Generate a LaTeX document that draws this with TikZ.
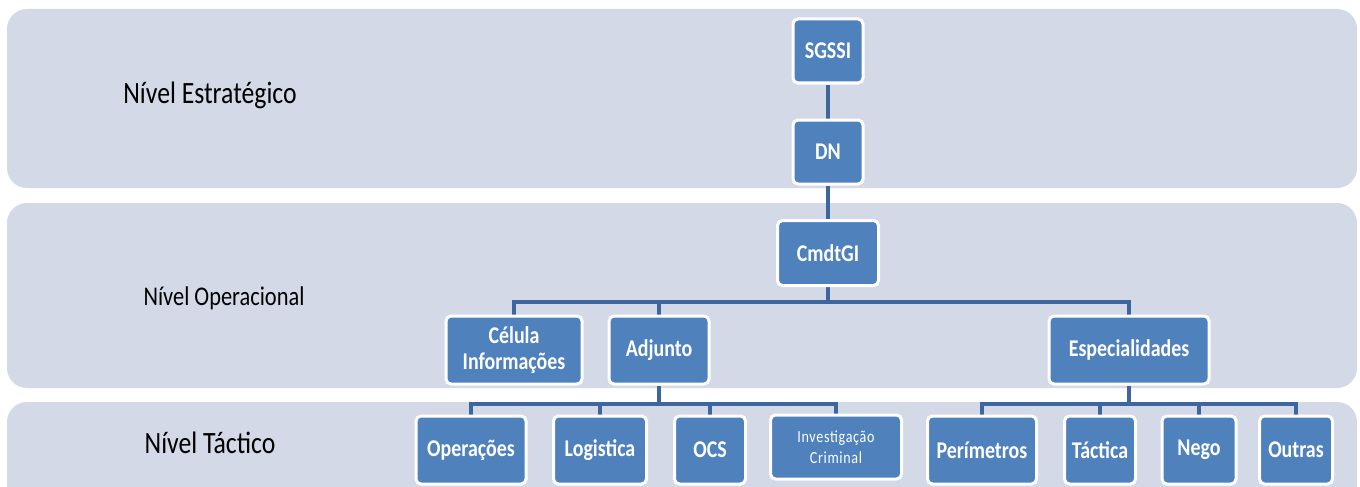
\documentclass[tikz,border=0pt]{standalone}
\usepackage{fontspec}
\setmainfont{Carlito}[FakeStretch=0.83]
\definecolor{bandfill}{HTML}{D3D9E7}
\definecolor{boxfill}{HTML}{4F81BD}
\definecolor{linkcol}{HTML}{3C669C}
\pgfdeclarelayer{bands}
\pgfdeclarelayer{links}
\pgfsetlayers{bands,links,main}

\begin{document}
\begin{tikzpicture}[x=1pt,y=-1pt,
  orgbox/.style={draw=white, line width=3pt, fill=boxfill, rounded corners=5pt,
    text=white, font=\fontsize{24}{29}\selectfont\bfseries, align=center,
    inner sep=0pt, minimum height=68pt},
  toprow/.style={orgbox, minimum width=70pt, minimum height=64pt},
  tacbox/.style={orgbox, minimum height=68pt},
  levellabel/.style={font=\fontsize{31}{36}\selectfont, anchor=base, text=black},
  band/.style={fill=bandfill, rounded corners=20pt},
  link/.style={draw=linkcol, line width=4pt}]

\useasboundingbox (0,0) rectangle (1360,487);
\clip (0,0) rectangle (1360,487);

% level bands
\begin{pgfonlayer}{bands}
  \fill[white] (0,0) rectangle (1360,487);
  \path[band] (7,9) rectangle (1357,188);
  \path[band] (7,203) rectangle (1357,388);
  \path[band] (7,402) rectangle (1357,530);
\end{pgfonlayer}

% level names
\node[levellabel] (lvlE) at (210,103) {Nível Estratégico};
\node[levellabel, font=\fontsize{27}{32}\selectfont] (lvlO) at (224,305) {Nível Operacional};
\node[levellabel] (lvlT) at (210,453) {Nível Táctico};

% strategic and operational units
\node[toprow] (sgssi) at (828,51) {SGSSI};
\node[toprow] (dn) at (828,152) {DN};
\node[orgbox, minimum width=101pt, minimum height=65pt] (cmdt) at (828,253) {CmdtGI};
\node[orgbox, minimum width=136pt] (cel) at (514,350) {Célula\\[-3pt]Informações};
\node[orgbox, minimum width=100pt] (adj) at (659,350) {Adjunto};
\node[orgbox, minimum width=160pt] (esp) at (1129,350) {Especialidades};

% tactical units
\node[tacbox, minimum width=110pt] (ope) at (471,450) {Operações};
\node[tacbox, minimum width=93pt] (logi) at (600,450) {Logistica};
\node[tacbox, minimum width=71pt] (ocs) at (710,450) {OCS};
\node[tacbox, minimum width=131pt, minimum height=64pt, font=\fontsize{17}{21}\selectfont\addfontfeature{LetterSpace=4}] (inv) at (836,447) {Investigação\\Criminal};
\node[tacbox, minimum width=109pt] (per) at (982,450) {Perímetros};
\node[tacbox, minimum width=71pt] (tac) at (1100,450) {Táctica};
\node[tacbox, minimum width=74pt] (nego) at (1199,450) {Nego};
\node[tacbox, minimum width=73pt] (outr) at (1296,450) {Outras};

% bus heights
\coordinate (opbus) at (0,302);
\coordinate (tacbus) at (0,404);

% connectors
\begin{pgfonlayer}{links}
  \draw[link] (sgssi) -- (dn);
  \draw[link] (dn) -- (cmdt);
  \draw[link] (cmdt.south) -- (cmdt |- opbus);
  \draw[link] (cel.north) |- (esp |- opbus) -- (esp.north);
  \draw[link] (adj.north) -- (adj |- opbus);
  \draw[link] (adj.south) -- (adj |- tacbus);
  \draw[link] (ope.north) |- (inv |- tacbus) -- (inv.north);
  \draw[link] (logi.north) -- (logi |- tacbus);
  \draw[link] (ocs.north) -- (ocs |- tacbus);
  \draw[link] (esp.south) -- (esp |- tacbus);
  \draw[link] (per.north) |- (outr |- tacbus) -- (outr.north);
  \draw[link] (tac.north) -- (tac |- tacbus);
  \draw[link] (nego.north) -- (nego |- tacbus);
\end{pgfonlayer}
\end{tikzpicture}
\end{document}
